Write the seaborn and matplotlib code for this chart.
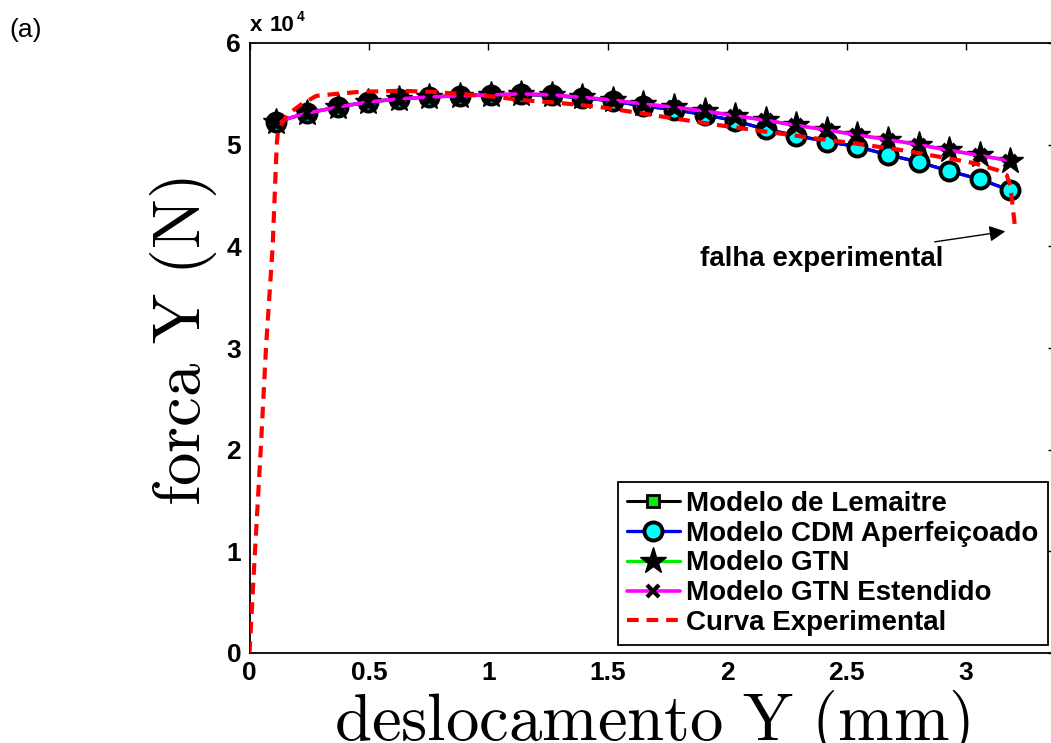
import matplotlib
matplotlib.use("Agg")
import matplotlib.pyplot as plt
from matplotlib.ticker import FuncFormatter
import seaborn as sns

# Displacement (mm) at which the model curves are sampled
disp_model = [0.112, 0.241, 0.369, 0.497, 0.625, 0.753, 0.881, 1.009, 1.137, 1.265,
              1.393, 1.521, 1.649, 1.777, 1.905, 2.033, 2.161, 2.289, 2.417, 2.545,
              2.673, 2.801, 2.929, 3.057, 3.185]

# Reaction force (N) for each damage model
force_lemaitre = [52250, 53100, 53700, 54200, 54500, 54700, 54800, 54900, 54950, 54850,
                  54600, 54300, 53800, 53450, 52950, 52350, 51500, 50900, 50300, 49800,
                  49000, 48300, 47400, 46600, 45500]
force_cdm = [52250, 53100, 53700, 54200, 54500, 54700, 54800, 54900, 54950, 54850,
             54600, 54300, 53800, 53450, 52950, 52350, 51500, 50900, 50300, 49800,
             49000, 48300, 47400, 46600, 45500]
force_gtn = [52250, 53100, 53700, 54200, 54500, 54700, 54800, 54900, 55000, 54900,
             54650, 54400, 54000, 53700, 53300, 52850, 52400, 51900, 51450, 50950,
             50500, 50000, 49450, 48950, 48400]
force_gtn_ext = [52250, 53100, 53700, 54200, 54500, 54700, 54800, 54900, 55000, 54900,
                 54650, 54400, 54000, 53700, 53300, 52850, 52400, 51900, 51450, 50950,
                 50500, 50000, 49450, 48950, 48400]

# Experimental force-displacement curve
disp_exp = [0, 0.023, 0.047, 0.069, 0.097, 0.114, 0.119, 0.156, 0.219, 0.28, 0.365,
            0.463, 0.63, 0.756, 0.88, 1.035, 1.133, 1.30, 1.468, 1.635, 1.80, 1.97,
            2.124, 2.375, 2.54, 2.72, 2.89, 3.03, 3.13, 3.17, 3.185, 3.206]
force_exp = [0, 10000, 20000, 30000, 40000, 50000, 51300, 52900, 54000, 54800, 55000,
             55200, 55300, 55200, 55000, 54700, 54400, 54100, 53700, 53100, 52500, 51900,
             51400, 50600, 50100, 49500, 48800, 48200, 47500, 47000, 46000, 41600]

labels = ["Modelo de Lemaitre", "Modelo CDM Aperfeiçoado", "Modelo GTN",
          "Modelo GTN Estendido", "Curva Experimental"]
x_ticks = [0, 0.5, 1, 1.5, 2, 2.5, 3]
y_ticks = [0, 10000, 20000, 30000, 40000, 50000, 60000]
failure_label = "falha experimental"

sns.set_style("white")
plt.rcParams["font.family"] = ["Liberation Sans", "DejaVu Sans"]
plt.rcParams["mathtext.fontset"] = "cm"
for key in ["text.color", "axes.labelcolor", "xtick.color", "ytick.color",
            "axes.edgecolor"]:
    plt.rcParams[key] = "black"

W, H = 1051, 743
fig = plt.figure(figsize=(W / 100, H / 100), dpi=100)
ax_l, ax_r, ax_b, ax_t = 249.5, 1055, 653, 43
ax = fig.add_axes([ax_l / W, 1 - ax_b / H, (ax_r - ax_l) / W, (ax_b - ax_t) / H])

sns.lineplot(x=disp_model, y=force_lemaitre, ax=ax, color="black", lw=2.2,
             marker="s", markersize=9, markerfacecolor="#00ee00",
             markeredgecolor="black", markeredgewidth=2, label=labels[0], zorder=2)
sns.lineplot(x=disp_model, y=force_cdm, ax=ax, color="#0000ee", lw=2.4,
             marker="o", markersize=13, markerfacecolor="#00ffff",
             markeredgecolor="black", markeredgewidth=2.8, label=labels[1], zorder=3)
sns.lineplot(x=disp_model, y=force_gtn, ax=ax, color="#00ee00", lw=2.4,
             marker="*", markersize=20, markerfacecolor="black",
             markeredgecolor="black", markeredgewidth=1, label=labels[2], zorder=4)
sns.lineplot(x=disp_model, y=force_gtn_ext, ax=ax, color="#ff00ff", lw=2.6,
             marker="x", markersize=9, markerfacecolor="black",
             markeredgecolor="black", markeredgewidth=3, label=labels[3], zorder=5)
sns.lineplot(x=disp_exp, y=force_exp, ax=ax, color="#ff0000", lw=3,
             dashes=(2.8, 1.9), label=labels[4], zorder=6)

ax.set_xlim(0, 3.372)
ax.set_ylim(0, 60000)
ax.set_xticks(x_ticks)
ax.set_yticks(y_ticks)
ax.xaxis.set_major_formatter(FuncFormatter(lambda v, _: f"{v:g}"))
ax.yaxis.set_major_formatter(FuncFormatter(lambda v, _: f"{v / 1e4:g}"))
ax.tick_params(direction="in", length=5, width=1, top=True, right=True,
               labelsize=19, pad=6, color="black", labelcolor="black")
for lab in ax.get_xticklabels() + ax.get_yticklabels():
    lab.set_fontweight("bold")
for sp in ax.spines.values():
    sp.set_linewidth(1.3)
    sp.set_color("black")

ax.set_xlabel(r"$\mathrm{deslocamento\ Y\ (mm)}$", fontsize=48, va="top")
ax.xaxis.set_label_coords(0.5, -0.057)
ax.set_ylabel(r"$\mathrm{forca\ Y\ (N)}$", fontsize=48)
ax.yaxis.set_label_coords(-0.038, 0.51)

# Multiplier for the force axis
fig.text(250 / W, 1 - 31 / H, "x", fontsize=16, fontweight="bold", va="baseline")
fig.text(270 / W, 1 - 31 / H, "10", fontsize=16, fontweight="bold", va="baseline")
fig.text(297 / W, 1 - 21 / H, "4", fontsize=10, fontweight="bold", va="baseline")
fig.text(9 / W, 1 - 37 / H, "(a)", fontsize=19, va="baseline")

ax.annotate(failure_label, xy=(3.164, 41470), xytext=(2.397, 38800),
            fontsize=20, fontweight="bold", ha="center", va="center",
            arrowprops=dict(arrowstyle="-|>", color="black", lw=1,
                            mutation_scale=24, shrinkA=2, shrinkB=0))

leg = ax.legend(loc="lower right", bbox_to_anchor=(0.991, 0.013), borderaxespad=0,
                prop={"weight": "bold", "size": 20}, frameon=True,
                fancybox=False, framealpha=1, edgecolor="black",
                handlelength=1.9, handletextpad=0.25, labelspacing=0.14,
                borderpad=0.32)
leg.get_frame().set_linewidth(1.3)

fig.savefig("out.png", dpi=100, facecolor="white")
